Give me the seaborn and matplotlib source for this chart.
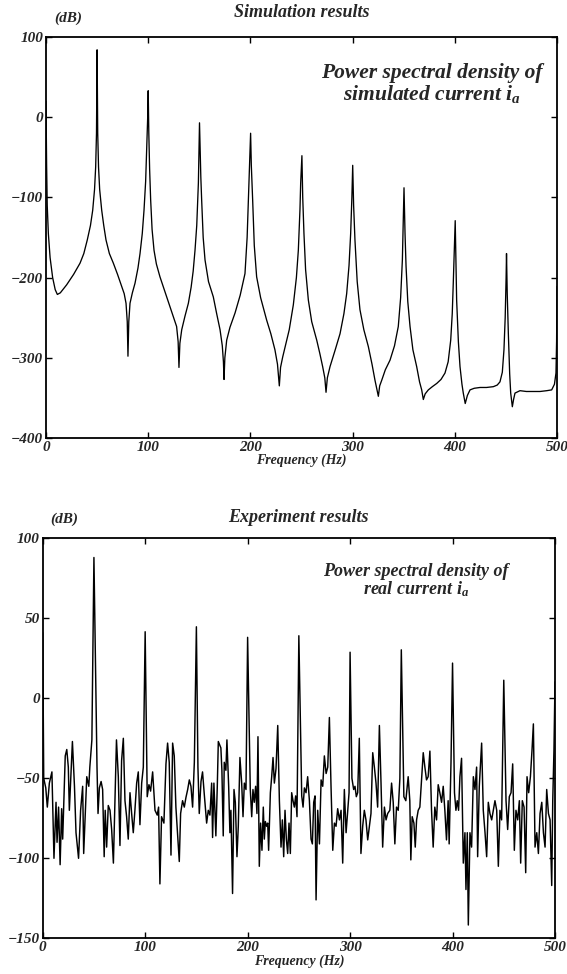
import matplotlib
matplotlib.use("Agg")
import matplotlib.pyplot as plt
import seaborn as sns
import pandas as pd

# Simulated stator current PSD (Hz, dB)
sim_freq = [
    0, 0.6, 1.2, 2.3, 4, 6.5, 9, 11.1, 14, 20.2, 27, 33.3, 37, 40.4, 43.5, 45.7, 47.5, 48.6, 49.4,
    50.0, 50.6, 51.4, 52.5, 54.5, 56.5, 58.7, 62, 65.9, 70, 74.1, 76.5, 78.3, 79.5, 80.2, 81, 82.2,
    84.5, 87.1, 90, 92, 94.2, 95.9, 97.5, 98.5, 99.5,
    100.0, 100.6, 101.4, 102.4, 103.8, 105.7, 108, 111.5, 116, 121.3, 124.5, 127.8, 129.3, 130.1,
    131, 132.8, 136, 139.3, 142, 144, 145.8, 147.5, 149.1, 149.7,
    150.2, 150.8, 151.5, 152.3, 153.8, 155.6, 159, 163.7, 167, 170.3, 172.5, 173.6, 174.2, 175,
    176.8, 180, 185, 190, 194.7, 196.8, 198, 199.2,
    200.2, 200.9, 202.2, 203.8, 206.1, 210, 215.9, 220, 224, 226.5, 228.3, 229.5, 231.6, 235.5,
    238, 242, 245, 246.9, 248.5, 249.2,
    250.4, 251.2, 252.4, 254, 256.7, 260, 264.9, 268, 270.7, 272.8, 274, 275.3, 277.9, 283,
    287.7, 291.5, 294.2, 296.5, 298.1, 299.3,
    300.1, 301, 302.3, 304.5, 307.2, 311, 315.4, 319, 321.9, 325.2, 326.5, 328.5, 332, 336.6,
    341, 344.7, 347, 348.7, 349.6,
    350.3, 351.3, 352.3, 354, 356.2, 359, 362.7, 365.5, 367.6, 369.2, 371, 374.1, 378, 382.3,
    386.5, 390.4, 393.5, 396, 397.5, 398.5, 399.6,
    400.4, 401, 401.8, 403.5, 405.1, 407, 408.3, 410.2, 412.3, 414.9, 419, 424.7, 431, 437.7,
    441.5, 444.2, 446.5, 448.1, 449.3, 450.2,
    450.6, 451.3, 452.4, 453.7, 454.7, 456.3, 457.5, 458.9, 463.8, 470, 476, 483.4, 490, 494.8,
    497.5, 499, 499.6, 500,
]
sim_db = [
    20, -60, -110, -145, -175, -200, -215, -221, -219, -209, -196, -182, -170, -153, -135, -116, -90, -62, -20,
    84, -20, -62, -90, -116, -135, -153, -170, -182, -196, -211, -220, -232, -255, -298, -255, -232,
    -219, -207, -188, -170, -145, -116, -80, -41, 0,
    33, -20, -65, -103, -140, -166, -183, -199, -216, -236, -248, -261, -280, -312,
    -282, -265, -248, -232, -212, -192, -166, -135, -82, -40,
    -7, -40, -75, -103, -150, -178, -205, -224, -245, -265, -285, -305, -327, -300,
    -278, -262, -244, -222, -195, -150, -103, -60,
    -20, -60, -103, -160, -199, -225, -253, -270, -290, -308, -335, -312, -299, -278,
    -265, -234, -200, -166, -115, -82,
    -48, -100, -145, -190, -228, -255, -278, -295, -311, -325, -343, -325, -311, -290,
    -270, -245, -220, -185, -145, -100,
    -60, -110, -153, -205, -240, -265, -286, -308, -328, -348, -335, -328, -315, -303,
    -285, -261, -225, -178, -130,
    -88, -145, -186, -230, -261, -290, -311, -330, -340, -352, -345, -340, -336, -332,
    -327, -319, -305, -278, -245, -207, -160,
    -129, -170, -228, -280, -311, -333, -344, -357, -347, -340, -338, -337, -337, -336,
    -334, -330, -318, -290, -250, -200,
    -170, -220, -270, -320, -344, -361, -352, -344, -341, -342, -342, -342, -341, -340,
    -333, -319, -280, -211,
]

# Measured stator current PSD (Hz, dB)
exp_freq = [
    0, 1, 3, 4.5, 6.5, 9, 11, 13, 14, 15.5, 17, 18.5, 19.5, 22, 23.5, 25, 26, 27.5, 29, 31,
    32.5, 35, 37, 39, 40, 43, 45, 46, 48, 50, 53, 54, 55.3, 57, 58.5, 60, 61, 62.4, 64, 65.7,
    67.3, 69, 70.5, 72, 73.8, 75.4, 77, 78.7, 80.3, 81.9, 83.5, 85.2, 86.8, 88.4, 90, 91.7,
    93.3, 94.9, 96.6, 98.2, 100, 102, 103.7, 105.3, 107.3, 109.6, 111.8, 113.1, 114.4, 116,
    118.3, 120.3, 121.9, 123.5, 125.2, 126.8, 128.4, 130, 131.7, 133.3, 134.6, 136.5, 138.2,
    139.8, 141.5, 143.1, 144.7, 146.3, 148, 150, 151.5, 152.8, 154.5, 156, 157.7, 160, 161.6,
    163.2, 164.9, 165.8, 167.1, 169, 170.4, 171.4, 173.9, 174.9, 176.2, 177.2, 178.8, 179.8,
    181.5, 182.7, 183.7, 185.3, 186.7, 188, 189.6, 190.9, 192.5, 194.2, 195.5, 196.8, 198.4,
    200, 202.6, 204, 205.2, 206.5, 207.8, 209.1, 210.1, 211.4, 212.7, 214, 215.3, 216.3,
    217.3, 218.6, 219.6, 220.5, 222.2, 223.5, 224.8, 226.1, 227.7, 229.4, 231, 232.6, 233.9,
    235.2, 236.5, 237.8, 239.1, 240.4, 241.7, 243, 244.3, 245.6, 246.9, 248.2, 250, 252.8,
    254.1, 255.4, 257, 258.6, 260.3, 261.9, 263.2, 264.5, 265.8, 266.8, 268.4, 270.1, 271.7,
    273.3, 274.9, 276.6, 278.2, 279.8, 281.4, 283.1, 284.7, 286.3, 287.9, 289.6, 291.2, 292.8,
    294.4, 296.1, 297.7, 299, 300, 301.8, 303.5, 304.8, 306.1, 307.4, 309, 310.6, 312.3, 313.9,
    315.5, 317.2, 318.8, 320.4, 322.1, 323.7, 325.3, 326.9, 328.6, 330.2, 331.8, 333.5, 335.1,
    336.7, 338.8, 340.5, 342.1, 343.7, 345.3, 347, 348.6, 350, 352.5, 354.4, 356.7, 358.3,
    359.3, 360.6, 362.3, 363.6, 364.9, 366.5, 368.1, 369.7, 371.4, 373, 374.6, 376.2, 377.9,
    379.5, 381.1, 382.7, 384.4, 386, 387.6, 389.3, 390.9, 392.5, 394.1, 395.7, 396.7, 398.5,
    400, 401.9, 403.3, 404.6, 405.9, 407.2, 408.8, 410.5, 412.1, 413.1, 414.4, 415.4, 417,
    418.6, 420.3, 421.9, 423.5, 424.5, 426.1, 428.4, 430, 431.7, 433.3, 434.9, 436.5, 438.2,
    439.8, 441.4, 443.1, 444.7, 446.3, 447.9, 450, 452.2, 453.8, 455.4, 457.1, 458.7, 460.3,
    461.9, 463.6, 465.2, 466.5, 468.1, 469.8, 471.4, 472.7, 474.3, 476, 477.6, 478.9, 480.5,
    482.2, 483.8, 485.4, 487.1, 488.7, 490.3, 491.9, 493.6, 495.2, 496.8, 497.8, 499, 500,
]
exp_db = [
    41, -50, -56, -68, -53, -46, -100, -65, -90, -68, -104, -69, -88, -36, -32, -43, -70, -49, -27, -55,
    -84, -100, -70, -55, -97, -49, -55, -43, -26, 88, -43, -72, -56, -52, -57, -99, -70, -93, -67, -70,
    -82, -103, -64, -26, -49, -92, -39, -25, -64, -74, -88, -59, -72, -84, -70, -53,
    -46, -79, -53, -43, 41.6, -61.5, -54, -58, -46, -70, -73, -68, -116, -74,
    -78, -41, -28, -40, -98, -28, -36, -68, -86, -102, -72, -64, -68,
    -62, -57, -51, -55, -68, -40, 44.7, -43, -72, -52, -46, -60, -78, -70,
    -73, -53, -87, -53, -86, -55, -27, -31, -45, -86, -40, -45, -26,
    -55, -84, -70, -122, -57, -65, -99, -80, -37, -53, -74, -53, -57,
    38.1, -57, -74, -57, -65, -55, -72, -24, -105, -78, -95, -68, -88,
    -77, -80, -78, -95, -59, -49, -37, -53, -44, -17, -64, -93, -76,
    -99, -70, -88, -97, -78, -97, -59, -64, -68, -61, -74, 39.1, -61,
    -68, -56, -59, -49, -64, -88, -91, -65, -61, -126, -70, -91, -51,
    -55, -36, -47, -43, -12, -55, -95, -78, -80, -69, -76, -70, -103,
    -57, -84, -70, -59, 28.8, -50, -57, -55, -61.5, -59, -25, -97, -80, -70,
    -76, -88.5, -80, -72, -34, -43, -53, -68, -17, -53, -93, -68, -76,
    -72, -70, -53, -65, -91, -68, -70, -50, 30.3, -61.5, -64, -49, -64,
    -101, -74, -78, -93, -76, -70, -68, -51, -34, -43, -51, -49, -33,
    -70, -93, -68, -76, -54, -59, -65, -55, -70, -88.5, -64, -91, -40,
    22, -59, -70, -64, -70, -49, -37.5, -103, -84, -119.5, -84, -141.7, -84,
    -93, -49, -57, -43, -99, -55, -28, -70, -84, -99, -65, -72, -76,
    -70, -64, -70, -105, -70, -76, 11.3, -64, -82, -61.5, -59, -41, -95,
    -70, -76, -64, -103, -64, -68, -109, -49, -59, -49, -32, -16, -93,
    -84, -97, -72, -65, -84, -93, -57, -72, -76, -117, -64, -32, 10.3,
]

sim_df = pd.DataFrame({"Frequency": sim_freq, "PSD": sim_db})
exp_df = pd.DataFrame({"Frequency": exp_freq, "PSD": exp_db})

sns.set_theme(style="ticks")
plt.rcParams["font.family"] = ["Liberation Serif", "DejaVu Serif"]
plt.rcParams["font.style"] = "italic"
plt.rcParams["font.weight"] = "bold"
plt.rcParams["mathtext.fontset"] = "custom"
plt.rcParams["mathtext.it"] = "Liberation Serif:italic:bold"
plt.rcParams["mathtext.rm"] = "Liberation Serif:italic:bold"
plt.rcParams["axes.unicode_minus"] = True

W, H = 567, 974
fig = plt.figure(figsize=(W / 100, H / 100), dpi=100)

ax1 = fig.add_axes([46 / W, 1 - 438 / H, 511 / W, 401 / H])
ax2 = fig.add_axes([42.7 / W, 1 - 938.3 / H, 512.3 / W, 400 / H])

panels = [
    (ax1, sim_df, (-400, 100), [-400, -300, -200, -100, 0, 100], 0.95,
     "Simulation results", 1.062,
     "Power spectral density of\nsimulated current $i_a$", (0.755, 0.884), 15.5),
    (ax2, exp_df, (-150, 100), [-150, -100, -50, 0, 50, 100], 1.05,
     "Experiment results", 1.053,
     "Power spectral density of\nreal current $i_a$", (0.729, 0.893), 13),
]

for ax, df, ylim, yticks, lw, title, title_y, note, note_xy, note_fs in panels:
    sns.lineplot(data=df, x="Frequency", y="PSD", ax=ax, color="black",
                 linewidth=lw, estimator=None, sort=False)
    ax.set_xlim(0, 500)
    ax.set_ylim(*ylim)
    ax.set_xticks([0, 100, 200, 300, 400, 500])
    ax.set_yticks(yticks)
    ax.tick_params(direction="in", top=True, right=True, length=4, width=1.0,
                   labelsize=11, pad=2, color="black")
    for lab in ax.get_xticklabels() + ax.get_yticklabels():
        lab.set_fontweight("bold")
        lab.set_fontstyle("italic")
    for sp in ax.spines.values():
        sp.set_linewidth(1.3)
        sp.set_color("black")
        sp.set_visible(True)
    ax.set_xlabel("Frequency (Hz)", fontsize=10, fontweight="bold", fontstyle="italic", labelpad=0)
    ax.set_ylabel("")
    ax.text(0.5, title_y, title, transform=ax.transAxes, ha="center", va="center",
            fontsize=13, fontweight="bold", fontstyle="italic")
    ax.text(0.043, 1.047, "(dB)", transform=ax.transAxes, ha="center", va="center",
            fontsize=11, fontweight="bold", fontstyle="italic")
    ax.text(note_xy[0], note_xy[1], note, transform=ax.transAxes, ha="center", va="center",
            multialignment="center", fontsize=note_fs, fontweight="bold", fontstyle="italic",
            linespacing=1.0)
    ax.set_facecolor("white")

fig.savefig("out.png", dpi=100, facecolor="white")
